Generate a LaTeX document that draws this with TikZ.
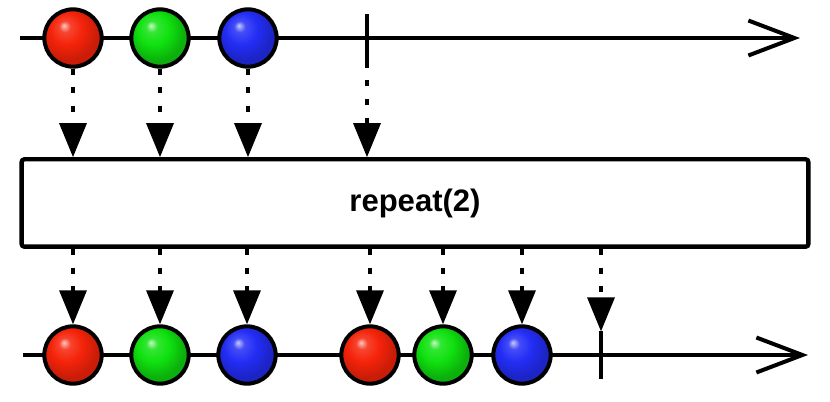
\documentclass[tikz,border=0pt]{standalone}
\usepackage{fontspec}
\setmainfont{Liberation Sans}
\usetikzlibrary{arrows.meta}
\usetikzlibrary{shadows}
\definecolor{mred}{RGB}{245, 35, 10}
\definecolor{mgreen}{RGB}{15, 225, 15}
\definecolor{mblue}{RGB}{35, 45, 245}
\pgfdeclareradialshading{redmarble}{\pgfpoint{-8bp}{11bp}}{color(0bp)=(white!75!mred); color(5bp)=(mred!85!white); color(14bp)=(mred); color(25bp)=(mred!82!black); color(50bp)=(mred!82!black)}
\pgfdeclareradialshading{greenmarble}{\pgfpoint{-8bp}{11bp}}{color(0bp)=(white!75!mgreen); color(5bp)=(mgreen!85!white); color(14bp)=(mgreen); color(25bp)=(mgreen!78!black); color(50bp)=(mgreen!78!black)}
\pgfdeclareradialshading{bluemarble}{\pgfpoint{-8bp}{11bp}}{color(0bp)=(white!75!mblue); color(5bp)=(mblue!85!white); color(14bp)=(mblue); color(25bp)=(mblue!80!black); color(50bp)=(mblue!80!black)}
\tikzset{timeline/.style = {line width=0.12cm,
                            -{Straight Barb[length=1.38cm, width=1.05cm]}},
         marble/.style = {circle, draw, line width=0.12cm, minimum size=1.72cm, inner sep=0pt,
                          shade, shading=#1,
                          drop shadow={opacity=0.2, shadow xshift=0.05cm, shadow yshift=-0.05cm}},
         tick/.style = {minimum width=0pt, minimum height=1.4cm, inner sep=0pt},
         tickline/.style = {line width=0.12cm},
         emit/.style = {line width=0.1cm, dash pattern=on 0.18cm off 0.38cm,
                        -{Triangle[length=1.02cm, width=0.81cm]}},
         opbox/.style = {draw, fill=white, line width=0.13cm, rounded corners=0.08cm,
                         minimum width=23.6cm, minimum height=2.62cm,
                         font=\fontsize{26.5pt}{30pt}\selectfont\bfseries,
                         drop shadow={opacity=0.2, shadow xshift=0.06cm, shadow yshift=-0.06cm}}}

\begin{document}
\begin{tikzpicture}[x=0.03cm, y=-0.03cm]
      \useasboundingbox (0, 0) rectangle (830, 402);

      % source
      \coordinate (sstart) at (20, 38);
      \coordinate (send) at (800, 38);
      \draw [timeline] (sstart) -- (send);
      \node [tick] (sdone) at (367, 38) {};
      \draw [tickline] (sdone.north) -- (sdone.south);
      \node [marble=redmarble] (s1) at (73, 38) {};
      \node [marble=greenmarble] (s2) at (160, 38) {};
      \node [marble=bluemarble] (s3) at (248, 38) {};

      \node [opbox] (box) at (415, 203) {repeat(2)};

      \draw [emit] (s1) -- (s1 |- box.north);
      \draw [emit] (s2) -- (s2 |- box.north);
      \draw [emit] (s3) -- (s3 |- box.north);
      \draw [emit] (sdone.south) -- (sdone |- box.north);

      % result
      \coordinate (rstart) at (23, 355);
      \coordinate (rend) at (808, 355);
      \draw [timeline] (rstart) -- (rend);
      \node [tick] (rdone) at (601, 355) {};
      \draw [tickline] (rdone.north) -- (rdone.south);
      \node [marble=redmarble] (r1) at (73, 355) {};
      \node [marble=greenmarble] (r2) at (160, 355) {};
      \node [marble=bluemarble] (r3) at (247, 355) {};
      \node [marble=redmarble] (r4) at (370, 355) {};
      \node [marble=greenmarble] (r5) at (443, 355) {};
      \node [marble=bluemarble] (r6) at (522, 355) {};

      \foreach \r in {r1, r2, r3, r4, r5, r6}
        \draw [emit] (box.south -| \r) -- (\r);
      \draw [emit] (box.south -| rdone) -- (rdone.north);
\end{tikzpicture}
\end{document}
